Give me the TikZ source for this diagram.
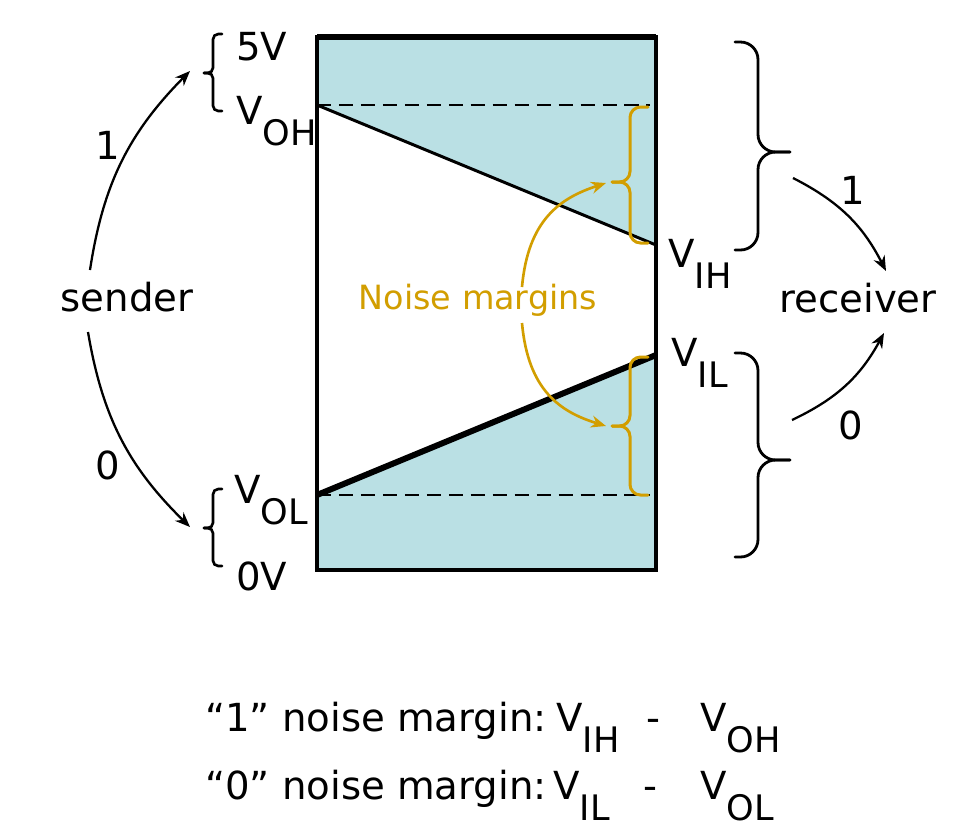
\documentclass[tikz,border=0pt]{standalone}
\usepackage{fontspec}
\setmainfont{DejaVu Sans}
\usetikzlibrary{arrows.meta}
\definecolor{marginblue}{RGB}{186,224,228}
\definecolor{margingold}{RGB}{210,158,0}
\tikzset{
  lbl/.style      = {font=\fontsize{22}{26}\selectfont, inner sep=0pt},
  bar/.style      = {line width=1.8pt, black},
  levelline/.style = {line width=1.3pt, dash pattern=on 8pt off 4.5pt},
  sig/.style      = {-{Stealth[length=3mm, width=2.4mm]}, line width=1.3pt},
  gold/.style     = {-{Stealth[length=3mm, width=2.4mm]}, line width=1.5pt, margingold},
  bigbrace/.style = {rounded corners=10pt, line width=1.6pt, line cap=round},
  nmbrace/.style  = {rounded corners=6pt, line width=1.7pt, line cap=round, margingold},
  lvbrace/.style  = {rounded corners=3pt, line width=1.5pt, line cap=round},
}
\newcommand{\vsub}[1]{V\raisebox{-0.55em}{\fontsize{20}{24}\selectfont #1}}
% curly brace: [style]{end x}{spine x}{tip x}{top y}{tip y}{bottom y}
\newcommand{\curly}[7][]{%
  \draw[#1] (#2,#5) -- (#3,#5) -- (#3,#6) -- (#4,#6);
  \draw[#1] (#2,#7) -- (#3,#7) -- (#3,#6) -- (#4,#6);
}

\begin{document}
\begin{tikzpicture}[x=0.02cm, y=-0.02cm]
  \useasboundingbox (0,0) rectangle (957,833);
  % voltage band
  \coordinate (tl) at (317,37);
  \coordinate (br) at (656,570);
  \coordinate (oh) at (317,105);
  \coordinate (ih) at (656,245);
  \coordinate (il) at (656,355);
  \coordinate (ol) at (317,495);
  \fill[marginblue] (tl) rectangle (br);
  \fill[white] (oh) -- (ih) -- (il) -- (ol) -- cycle;
  \draw[levelline] (oh) -- (650,105);
  \draw[levelline] (ol) -- (650,495);
  \draw[line width=1.7pt] (oh) -- (ih);
  \draw[line width=3.4pt] (ol) -- (il);
  \draw[bar] (tl) rectangle (br);
  \draw[line width=3pt] (tl) -- (656,37);

  % level labels
  \node[lbl, anchor=base west] (v5) at (236,60) {5V};
  \node[lbl, anchor=base west] (voh) at (236,124) {\vsub{OH}};
  \node[lbl, anchor=base west] (vol) at (234,503) {\vsub{OL}};
  \node[lbl, anchor=base west] (v0) at (236,590) {0V};
  \node[lbl, anchor=base west] (vih) at (668,267) {\vsub{IH}};
  \node[lbl, anchor=base west] (vil) at (671,366) {\vsub{IL}};

  % braces
  \curly[lvbrace]{222}{213}{204}{34}{73}{111}
  \curly[lvbrace]{222}{213}{204}{489}{528}{566}
  \curly[bigbrace]{735}{758}{790}{42}{152}{250}
  \curly[bigbrace]{735}{758}{790}{353}{460}{557}
  \curly[nmbrace]{648}{630}{612}{107}{182}{243}
  \curly[nmbrace]{648}{630}{612}{357}{426}{495}

  % sender side
  \node[lbl] (sender) at (127,297) {sender};
  \coordinate (hi in) at (190,71);
  \coordinate (lo in) at (190,527);
  \draw[sig] (90,270) to[bend left=18] (hi in);
  \draw[sig] (88,332) to[bend right=18] (lo in);
  \node[lbl] (s1) at (108,145) {1};
  \node[lbl] (s0) at (108,465) {0};

  % receiver side
  \node[lbl] (receiver) at (858,298) {receiver};
  \coordinate (hi out) at (793,178);
  \coordinate (lo out) at (792,420);
  \draw[sig] (hi out) to[bend left=18] (886,271);
  \draw[sig] (lo out) to[bend right=18] (884,333);
  \node[lbl] (r1) at (853,190) {1};
  \node[lbl] (r0) at (851,425) {0};

  % noise margins
  \node[lbl, font=\fontsize{19}{22}\selectfont, text=margingold] (nm) at (478,300) {Noise margins};
  \draw[gold] (522,287) .. controls (528,220) and (560,198) .. (606,183);
  \draw[gold] (522,323) .. controls (528,390) and (560,412) .. (606,426);

  % definitions
  \node[lbl, anchor=base west] (def1) at (205,731) {“1” noise margin:};
  \node[lbl, anchor=base west] (d1a) at (556,731) {\vsub{IH}};
  \node[lbl, anchor=base west] (d1m) at (646,731) {-};
  \node[lbl, anchor=base west] (d1b) at (700,731) {\vsub{OH}};
  \node[lbl, anchor=base west] (def0) at (205,799) {“0” noise margin:};
  \node[lbl, anchor=base west] (d0a) at (553,799) {\vsub{IL}};
  \node[lbl, anchor=base west] (d0m) at (643,799) {-};
  \node[lbl, anchor=base west] (d0b) at (700,799) {\vsub{OL}};
\end{tikzpicture}
\end{document}
